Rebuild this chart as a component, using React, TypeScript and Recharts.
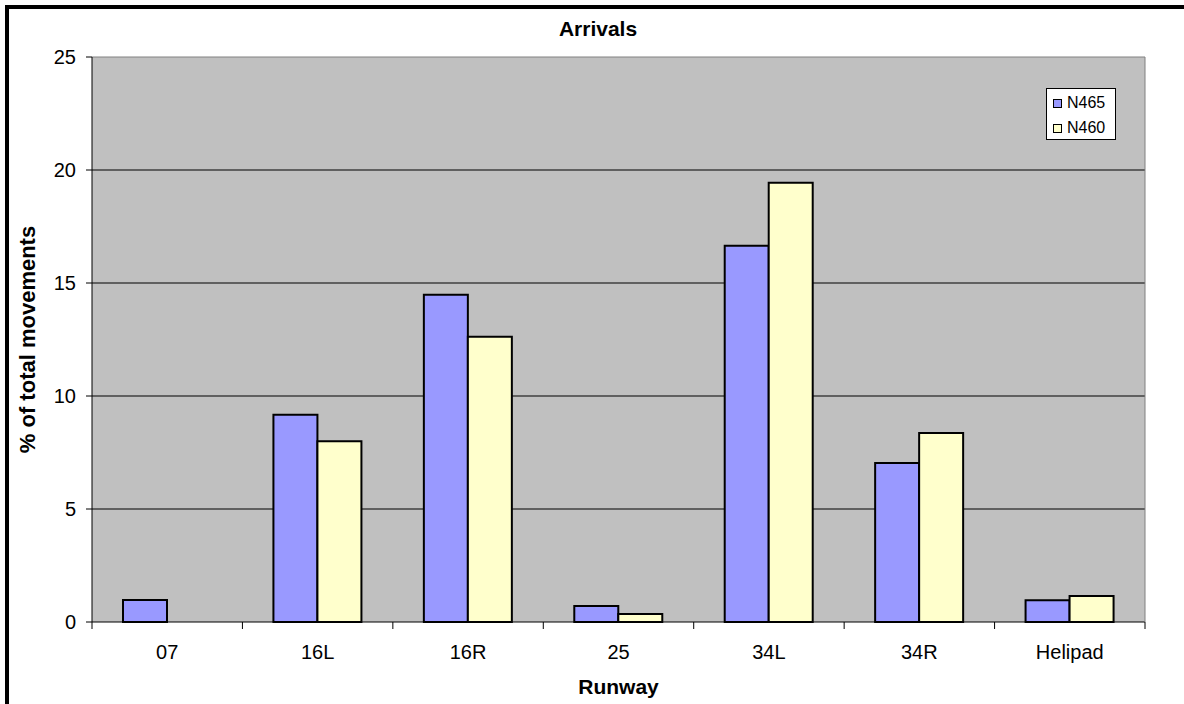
import React from 'react';
import { BarChart, Bar, XAxis, YAxis, CartesianGrid, Legend } from 'recharts';

const categories = ['07', '16L', '16R', '25', '34L', '34R', 'Helipad'];
const n465 = [0.97, 9.17, 14.48, 0.71, 16.65, 7.04, 0.96];
const n460 = [0, 8.0, 12.62, 0.35, 19.44, 8.36, 1.15];
const yTicks = [0, 5, 10, 15, 20, 25];
const gridValues = [5, 10, 15, 20];

const seriesInfo = [
  { key: 'N465', color: '#9999FF' },
  { key: 'N460', color: '#FFFFCC' },
];

const data = categories.map((c, i) => ({ runway: c, N465: n465[i], N460: n460[i] }));

const FONT = '"Liberation Sans", Arial, sans-serif';
const X_TICK_SIZE = 7;
const X_TICK_MARGIN = 16;

const XTick = (props: any) => {
  const { x, y, payload, index, width } = props;
  let half = payload && typeof payload.offset === 'number' && payload.offset > 0 ? payload.offset : 0;
  if (!half && typeof width === 'number') half = width / (2 * categories.length);
  const axisY = y - X_TICK_SIZE - X_TICK_MARGIN;
  return (
    <g>
      <line x1={x - half} x2={x - half} y1={axisY} y2={axisY + X_TICK_SIZE} stroke="#000" />
      {index === categories.length - 1 && (
        <line x1={x + half} x2={x + half} y1={axisY} y2={axisY + X_TICK_SIZE} stroke="#000" />
      )}
      <text x={x} y={y} dy="0.71em" textAnchor="middle" fontSize={20} fontFamily={FONT} fill="#000">
        {payload.value}
      </text>
    </g>
  );
};

const LegendBox = () => (
  <div
    style={{
      background: '#fff',
      border: '1px solid #000',
      width: 68,
      height: 50,
      boxSizing: 'content-box',
      fontFamily: FONT,
      fontSize: 16,
      position: 'relative',
    }}
  >
    {seriesInfo.map((s, i) => (
      <div
        key={s.key}
        style={{ position: 'absolute', left: 6, top: 5 + i * 25, display: 'flex', alignItems: 'center', lineHeight: '18px' }}
      >
        <span
          style={{
            display: 'inline-block',
            width: 7,
            height: 7,
            background: s.color,
            border: '1.5px solid #000',
            marginRight: 5,
          }}
        />
        <span>{s.key}</span>
      </div>
    ))}
  </div>
);

export default function App() {
  return (
    <div style={{ position: 'absolute', left: 0, top: 0, width: 1184, height: 704, background: '#fff', overflow: 'hidden' }}>
      <div
        style={{
          position: 'absolute',
          left: 5,
          top: 5,
          width: 1179,
          height: 699,
          borderLeft: '4px solid #000',
          borderTop: '4px solid #000',
          boxSizing: 'border-box',
        }}
      />
      <div
        style={{
          position: 'absolute',
          left: 498,
          width: 200,
          top: 17,
          textAlign: 'center',
          fontFamily: FONT,
          fontWeight: 'bold',
          fontSize: 21,
          lineHeight: '24px',
        }}
      >
        Arrivals
      </div>
      <div style={{ position: 'absolute', left: 0, top: 0 }}>
        <BarChart
          width={1184}
          height={704}
          data={data}
          margin={{ top: 56, right: 38, bottom: 10, left: 30 }}
          barSize={44}
          barGap={0}
        >
          <CartesianGrid fill="#C0C0C0" vertical={false} stroke="#000" horizontalValues={gridValues} />
          <XAxis
            dataKey="runway"
            height={72}
            tickLine={false}
            tickSize={X_TICK_SIZE}
            tickMargin={X_TICK_MARGIN}
            tick={<XTick />}
            axisLine={{ stroke: '#000' }}
            interval={0}
            label={{
              value: 'Runway',
              position: 'insideBottom',
              offset: 0,
              style: { fontFamily: FONT, fontWeight: 'bold', fontSize: 21, fill: '#000' },
            }}
          />
          <XAxis xAxisId="top" orientation="top" height={1} tick={false} tickLine={false} axisLine={{ stroke: '#808080' }} />
          <YAxis
            domain={[0, 25]}
            ticks={yTicks}
            width={62}
            tickSize={6}
            tickMargin={10}
            tick={{ fontSize: 20, fill: '#000', fontFamily: FONT }}
            tickLine={{ stroke: '#000' }}
            axisLine={{ stroke: '#000' }}
            label={{
              value: '% of total movements',
              angle: -90,
              position: 'insideLeft',
              offset: -3,
              style: { textAnchor: 'middle', fontFamily: FONT, fontWeight: 'bold', fontSize: 22, fill: '#000' },
            }}
          />
          <YAxis yAxisId="right" orientation="right" width={1} tick={false} tickLine={false} axisLine={{ stroke: '#808080' }} />
          <Legend
            layout="vertical"
            align="center"
            verticalAlign="middle"
            content={<LegendBox />}
            wrapperStyle={{ left: 1046, top: 88, width: 70, height: 52 }}
          />
          {seriesInfo.map((s) => (
            <Bar key={s.key} dataKey={s.key} fill={s.color} stroke="#000" strokeWidth={2} isAnimationActive={false} />
          ))}
        </BarChart>
      </div>
    </div>
  );
}
